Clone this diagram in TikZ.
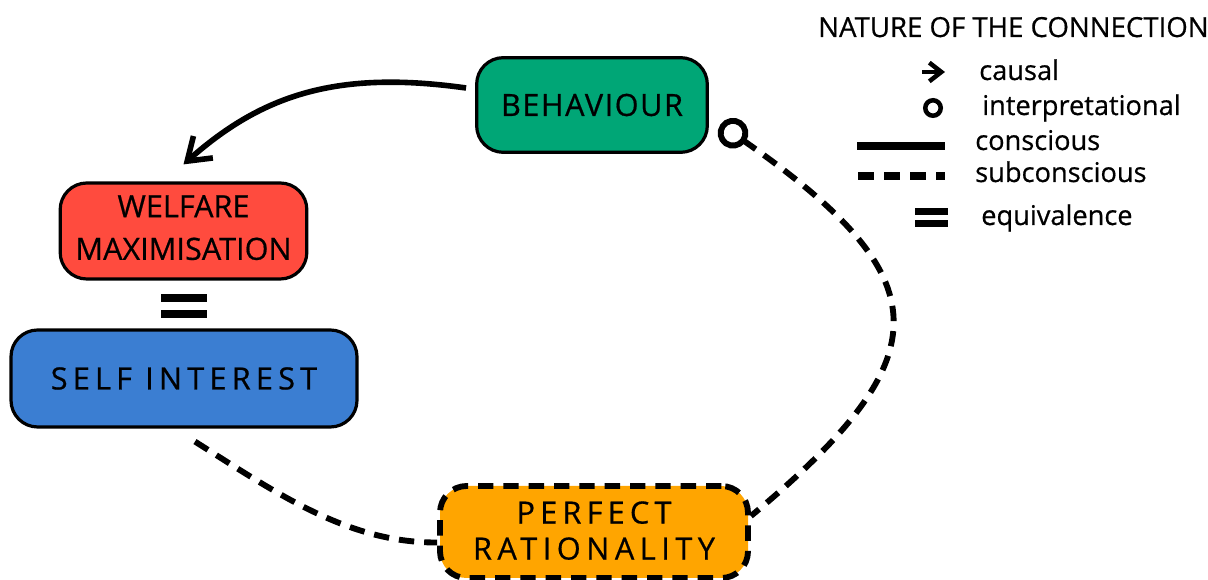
\documentclass[tikz,border=0pt]{standalone}
\usepackage{fontspec}
\setmainfont{Open Sans}[FakeBold=0.6]
\usetikzlibrary{arrows.meta}
\definecolor{behgreen}{HTML}{00A676}
\definecolor{welred}{HTML}{FF4B3E}
\definecolor{selfblue}{HTML}{3B7ED2}
\definecolor{ratorange}{HTML}{FFA500}
\begin{document}
\begin{tikzpicture}[x=0.75pt,y=-0.75pt,
  box/.style={draw=black,line width=2.4pt,rounded corners=20pt,align=center,inner sep=0pt,
    font=\fontsize{23}{32}\selectfont},
  conscious/.style={line width=4.2pt},
  subconscious/.style={line width=4.4pt,dash pattern=on 11.5pt off 7.5pt},
  legtext/.style={anchor=base west,inner sep=0pt,font=\fontsize{20.4}{24}\selectfont}
]
\useasboundingbox (0,0) rectangle (1208,580);

% concept boxes
\node[box,fill=behgreen,minimum width=173pt,minimum height=71pt] (beh) at (592,105)
  {\addfontfeatures{LetterSpace=5}BEHAVIOUR};
\node[box,fill=welred,minimum width=185pt,minimum height=72pt,text depth=5.2pt] (wel) at (183.5,231)
  {WELFARE\\MAXIMISATION};
\node[box,fill=selfblue,minimum width=259.5pt,minimum height=72.75pt] (self) at (184,378.5)
  {\addfontfeatures{LetterSpace=17}SELF INTEREST};
\node[box,subconscious,fill=ratorange,minimum width=231pt,minimum height=69pt,text depth=2.3pt,
  font=\fontsize{23}{27}\selectfont] (rat) at (594,532)
  {\addfontfeatures{LetterSpace=17}PERFECT\\\addfontfeatures{LetterSpace=18}RATIONALITY};

% equivalence between welfare maximisation and self interest
\fill (161,294) rectangle (207,302);
\fill (161,310) rectangle (207,318);

% causal, conscious link
\draw[conscious,-{Straight Barb[length=16pt,width=22pt]}]
  ([shift={(-9,-17)}]beh.west) .. controls (338,70) and (263,94) .. ([shift={(0,-17)}]wel.north);

% interpretational, subconscious link
\draw[subconscious,{Circle[open,length=23pt,width=23pt]}-]
  ([shift={(11.5,-29.5)}]beh.south east) .. controls (940,278) and (945,355) .. ([shift={(0,-16)}]rat.east);

% subconscious link from self interest
\draw[subconscious]
  ([shift={(11,13)}]self.south) .. controls (275,492) and (347,543) .. ([shift={(0,10.5)}]rat.west);

% legend
\node[anchor=base west,inner sep=0pt,font=\fontsize{20.7}{24}\selectfont] (legtitle) at (818,37)
  {NATURE OF THE CONNECTION};
\draw[line width=3.4pt,-{Straight Barb[length=9pt,width=14pt]}] (922,72) -- (945,72);
\node[legtext] (lcausal) at (979,80) {causal};
\draw[line width=3.4pt] (933,108) circle (5.8pt);
\node[legtext] (linterp) at (982,115) {interpretational};
\draw[line width=6pt] (857,146) -- (945,146);
\node[legtext] (lcons) at (975,150) {conscious};
\draw[line width=6pt,dash pattern=on 12pt off 7.5pt] (858,176) -- (945,176);
\node[legtext] (lsub) at (975,182) {subconscious};
\fill (915,208) rectangle (948,215);
\fill (915,220) rectangle (948,227);
\node[legtext] (leq) at (981,225) {equivalence};
\end{tikzpicture}
\end{document}
